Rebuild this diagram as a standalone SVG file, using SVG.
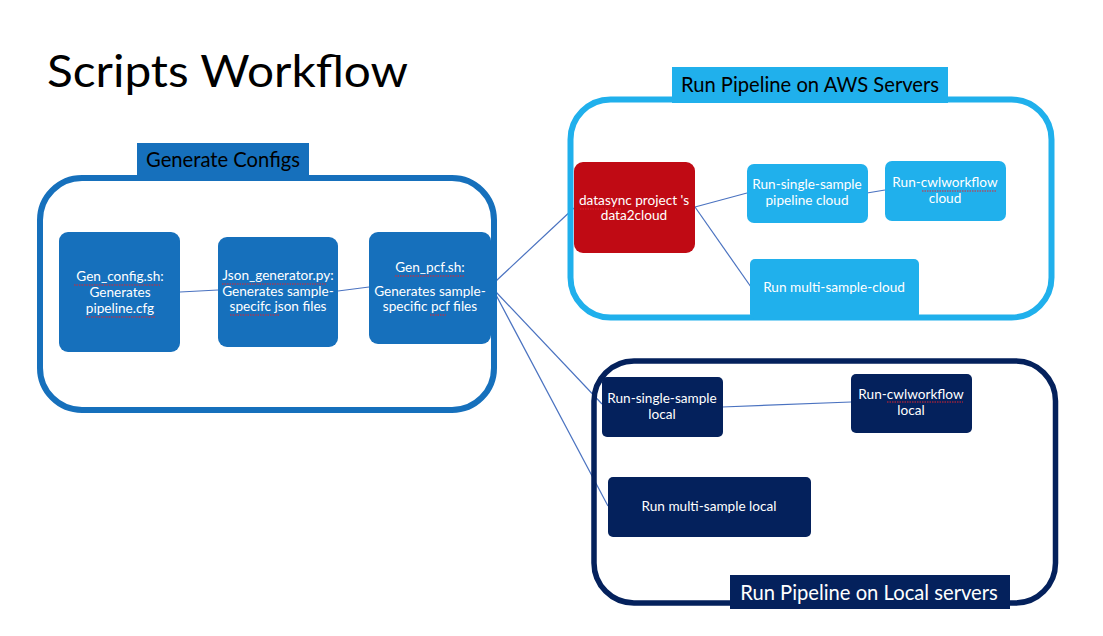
<svg xmlns="http://www.w3.org/2000/svg" width="1103" height="636" viewBox="0 0 1103 636">
<style>
  .t { font-family: Lato, "Open Sans", "Liberation Sans", sans-serif; text-anchor: middle; }
  .nt { font-size: 13.6px; fill: #ffffff; }
  .lbl { font-size: 20.2px; }
  .conn { stroke: #4A72C0; stroke-width: 1.2; fill: none; }
  .sq { stroke: #E0242C; stroke-width: 1; stroke-dasharray: 1.5 1; fill: none; }
  .blue { fill: #1670BC; }
  .sky { fill: #20B0EC; }
  .navy { fill: #04215C; }
</style>
<rect width="1103" height="636" fill="#ffffff"/>
<text x="47" y="87" textLength="361" lengthAdjust="spacingAndGlyphs" style="font-family: Lato, 'Open Sans', 'Liberation Sans', sans-serif; font-size:44px; fill:#000000">Scripts Workflow</text>

<g id="connectors">
  <line class="conn" x1="180" y1="292" x2="218" y2="290"/>
  <line class="conn" x1="338" y1="291" x2="369" y2="287"/>
  <line class="conn" x1="496" y1="281" x2="574" y2="208"/>
  <line class="conn" x1="496" y1="292" x2="602" y2="404"/>
  <line class="conn" x1="496" y1="295" x2="608" y2="506"/>
  <line class="conn" x1="695" y1="207" x2="747" y2="193"/>
  <line class="conn" x1="695" y1="207" x2="751" y2="287"/>
  <line class="conn" x1="867" y1="193" x2="885" y2="190"/>
  <line class="conn" x1="722" y1="407" x2="851" y2="402"/>
</g>

<g id="group-generate-configs">
  <rect x="40" y="178" width="454" height="232" rx="42" fill="none" stroke="#1670BC" stroke-width="6"/>
  <rect class="blue" x="137" y="143" width="172" height="34"/>
  <text class="t lbl" x="223" y="167" fill="#000000">Generate Configs</text>
</g>

<g id="node-gen-config">
  <rect class="blue" x="59" y="232" width="121" height="120" rx="9"/>
  <text class="t nt" x="120" y="281">Gen_config.sh:</text>
  <text class="t nt" x="120" y="297">Generates</text>
  <text class="t nt" x="120" y="313">pipeline.cfg</text>
  <path class="sq" d="M74 285 H160 M86 317 H155"/>
</g>

<g id="node-json-generator">
  <rect class="blue" x="218" y="237" width="120" height="110" rx="9"/>
  <text class="t nt" x="278" y="280">Json_generator.py:</text>
  <text class="t nt" x="278" y="296">Generates sample-</text>
  <text class="t nt" x="278" y="311">specifc json files</text>
  <path class="sq" d="M222 284 H327 M230 315 H280"/>
</g>

<g id="node-gen-pcf">
  <rect class="blue" x="369" y="232" width="122" height="112" rx="9"/>
  <text class="t nt" x="430" y="272">Gen_pcf.sh:</text>
  <text class="t nt" x="430" y="296">Generates sample-</text>
  <text class="t nt" x="430" y="311">specific pcf files</text>
  <path class="sq" d="M395 276 H464 M430 315 H446"/>
</g>

<g id="group-aws">
  <rect x="570.5" y="99.5" width="481" height="218" rx="40" fill="none" stroke="#20B0EC" stroke-width="6"/>
  <rect class="sky" x="672" y="67" width="276" height="36"/>
  <text class="t lbl" x="810" y="92" fill="#000000">Run Pipeline on AWS Servers</text>
</g>

<g id="node-datasync">
  <rect x="574" y="162" width="121" height="91" rx="9" fill="#C00A14"/>
  <text class="t nt" x="634" y="205">datasync project 's</text>
  <text class="t nt" x="634" y="220">data2cloud</text>
  <path class="sq" d="M580 209 H621"/>
</g>

<g id="node-single-cloud">
  <rect class="sky" x="747" y="164" width="121" height="59" rx="7"/>
  <text class="t nt" x="807" y="189">Run-single-sample</text>
  <text class="t nt" x="807" y="205">pipeline cloud</text>
</g>

<g id="node-cwl-cloud">
  <rect class="sky" x="885" y="161" width="121" height="60" rx="7"/>
  <text class="t nt" x="945" y="187">Run-cwlworkflow</text>
  <text class="t nt" x="945" y="203">cloud</text>
  <path class="sq" d="M922 191 H997"/>
</g>

<g id="node-multi-cloud">
  <rect class="sky" x="750" y="259" width="169" height="60" rx="5"/>
  <text class="t nt" x="834" y="292">Run multi-sample-cloud</text>
</g>

<g id="group-local">
  <rect x="594" y="361" width="461.5" height="242" rx="40" fill="none" stroke="#04215C" stroke-width="5.5"/>
  <rect class="navy" x="730" y="575" width="280" height="34"/>
  <text class="t lbl" x="869" y="600" fill="#ffffff">Run Pipeline on Local servers</text>
</g>

<g id="node-single-local">
  <rect class="navy" x="602" y="377" width="121" height="60" rx="5"/>
  <text class="t nt" x="662" y="403">Run-single-sample</text>
  <text class="t nt" x="662" y="419">local</text>
</g>

<g id="node-cwl-local">
  <rect class="navy" x="851" y="374" width="121" height="59" rx="5"/>
  <text class="t nt" x="911" y="399">Run-cwlworkflow</text>
  <text class="t nt" x="911" y="415">local</text>
  <path class="sq" d="M887 402 H963"/>
</g>

<g id="node-multi-local">
  <rect class="navy" x="608" y="477" width="203" height="60" rx="5"/>
  <text class="t nt" x="709" y="511">Run multi-sample local</text>
</g>
</svg>
